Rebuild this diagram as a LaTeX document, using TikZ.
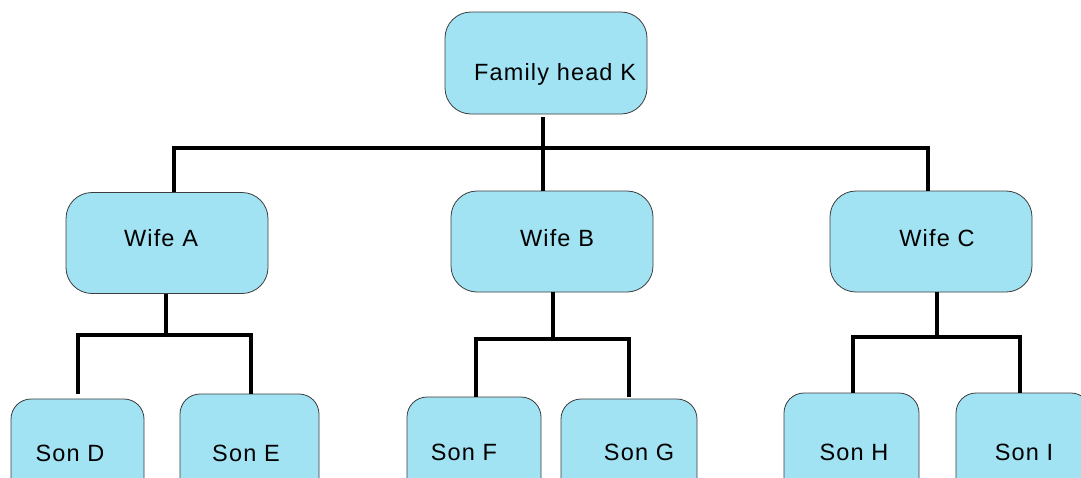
\documentclass[tikz,border=0pt]{standalone}
\usepackage{fontspec}
\setmainfont{Liberation Sans}[LetterSpace=5]
\definecolor{boxfill}{RGB}{161,226,243}
\definecolor{boxline}{RGB}{60,60,60}
\begin{document}
\begin{tikzpicture}[x=1pt,y=-1pt,
  box/.style={draw=boxline, line width=0.8pt, fill=boxfill, rounded corners=26pt, inner sep=0pt, minimum width=202pt, minimum height=101pt},
  sonbox/.style={draw=boxline, line width=0.8pt, fill=boxfill, rounded corners=20pt, inner sep=0pt, minimum height=111pt},
  lbl/.style={anchor=base, font=\fontsize{23.5}{28}\selectfont, inner sep=0pt},
  link/.style={line width=4.5pt, line join=miter, line cap=butt}]
\useasboundingbox (0,0) rectangle (1081,477);
\clip (0,0) rectangle (1081,477);
% boxes
\node[box, minimum height=102pt] (K) at (546,63) {};
\node[box] (WA) at (167,243) {};
\node[box] (WB) at (552,241.5) {};
\node[box] (WC) at (931,241.5) {};
\node[sonbox, minimum width=133pt] (SD) at (77.5,454.5) {};
\node[sonbox, minimum width=139pt] (SE) at (249.5,449.5) {};
\node[sonbox, minimum width=134pt] (SF) at (474,452.5) {};
\node[sonbox, minimum width=136pt] (SG) at (629,454.5) {};
\node[sonbox, minimum width=135pt] (SH) at (851.5,448.5) {};
\node[sonbox, minimum width=135pt] (SI) at (1023.5,448.5) {};
% labels
\node[lbl] (tK) at (555,80) {Family head K};
\node[lbl] (tA) at (161,246) {Wife A};
\node[lbl] (tB) at (557,246) {Wife B};
\node[lbl] (tC) at (937,246) {Wife C};
\node[lbl] (tD) at (70,461) {Son D};
\node[lbl] (tE) at (246,461) {Son E};
\node[lbl] (tF) at (464,460) {Son F};
\node[lbl] (tG) at (639,460) {Son G};
\node[lbl] (tH) at (854,460) {Son H};
\node[lbl] (tI) at (1024,460) {Son I};
% connector junctions
\coordinate (k0) at (543,117);
\coordinate (kbar) at (543,148);
\coordinate (a0) at (166,294);
\coordinate (abar) at (166,335);
\coordinate (b0) at (553,292);
\coordinate (bbar) at (553,339);
\coordinate (c0) at (937,292);
\coordinate (cbar) at (937,337);
% top level
\draw[link] (k0) -- (kbar);
\draw[link] (174,192) |- (kbar) -| (928,191);
\draw[link] (kbar) -- (543,191);
% wife A
\draw[link] (a0) -- (abar);
\draw[link] (78,394) |- (abar) -| (251,394);
% wife B
\draw[link] (b0) -- (bbar);
\draw[link] (476,397) |- (bbar) -| (629,397);
% wife C
\draw[link] (c0) -- (cbar);
\draw[link] (853,393) |- (cbar) -| (1020,393);
\end{tikzpicture}
\end{document}
